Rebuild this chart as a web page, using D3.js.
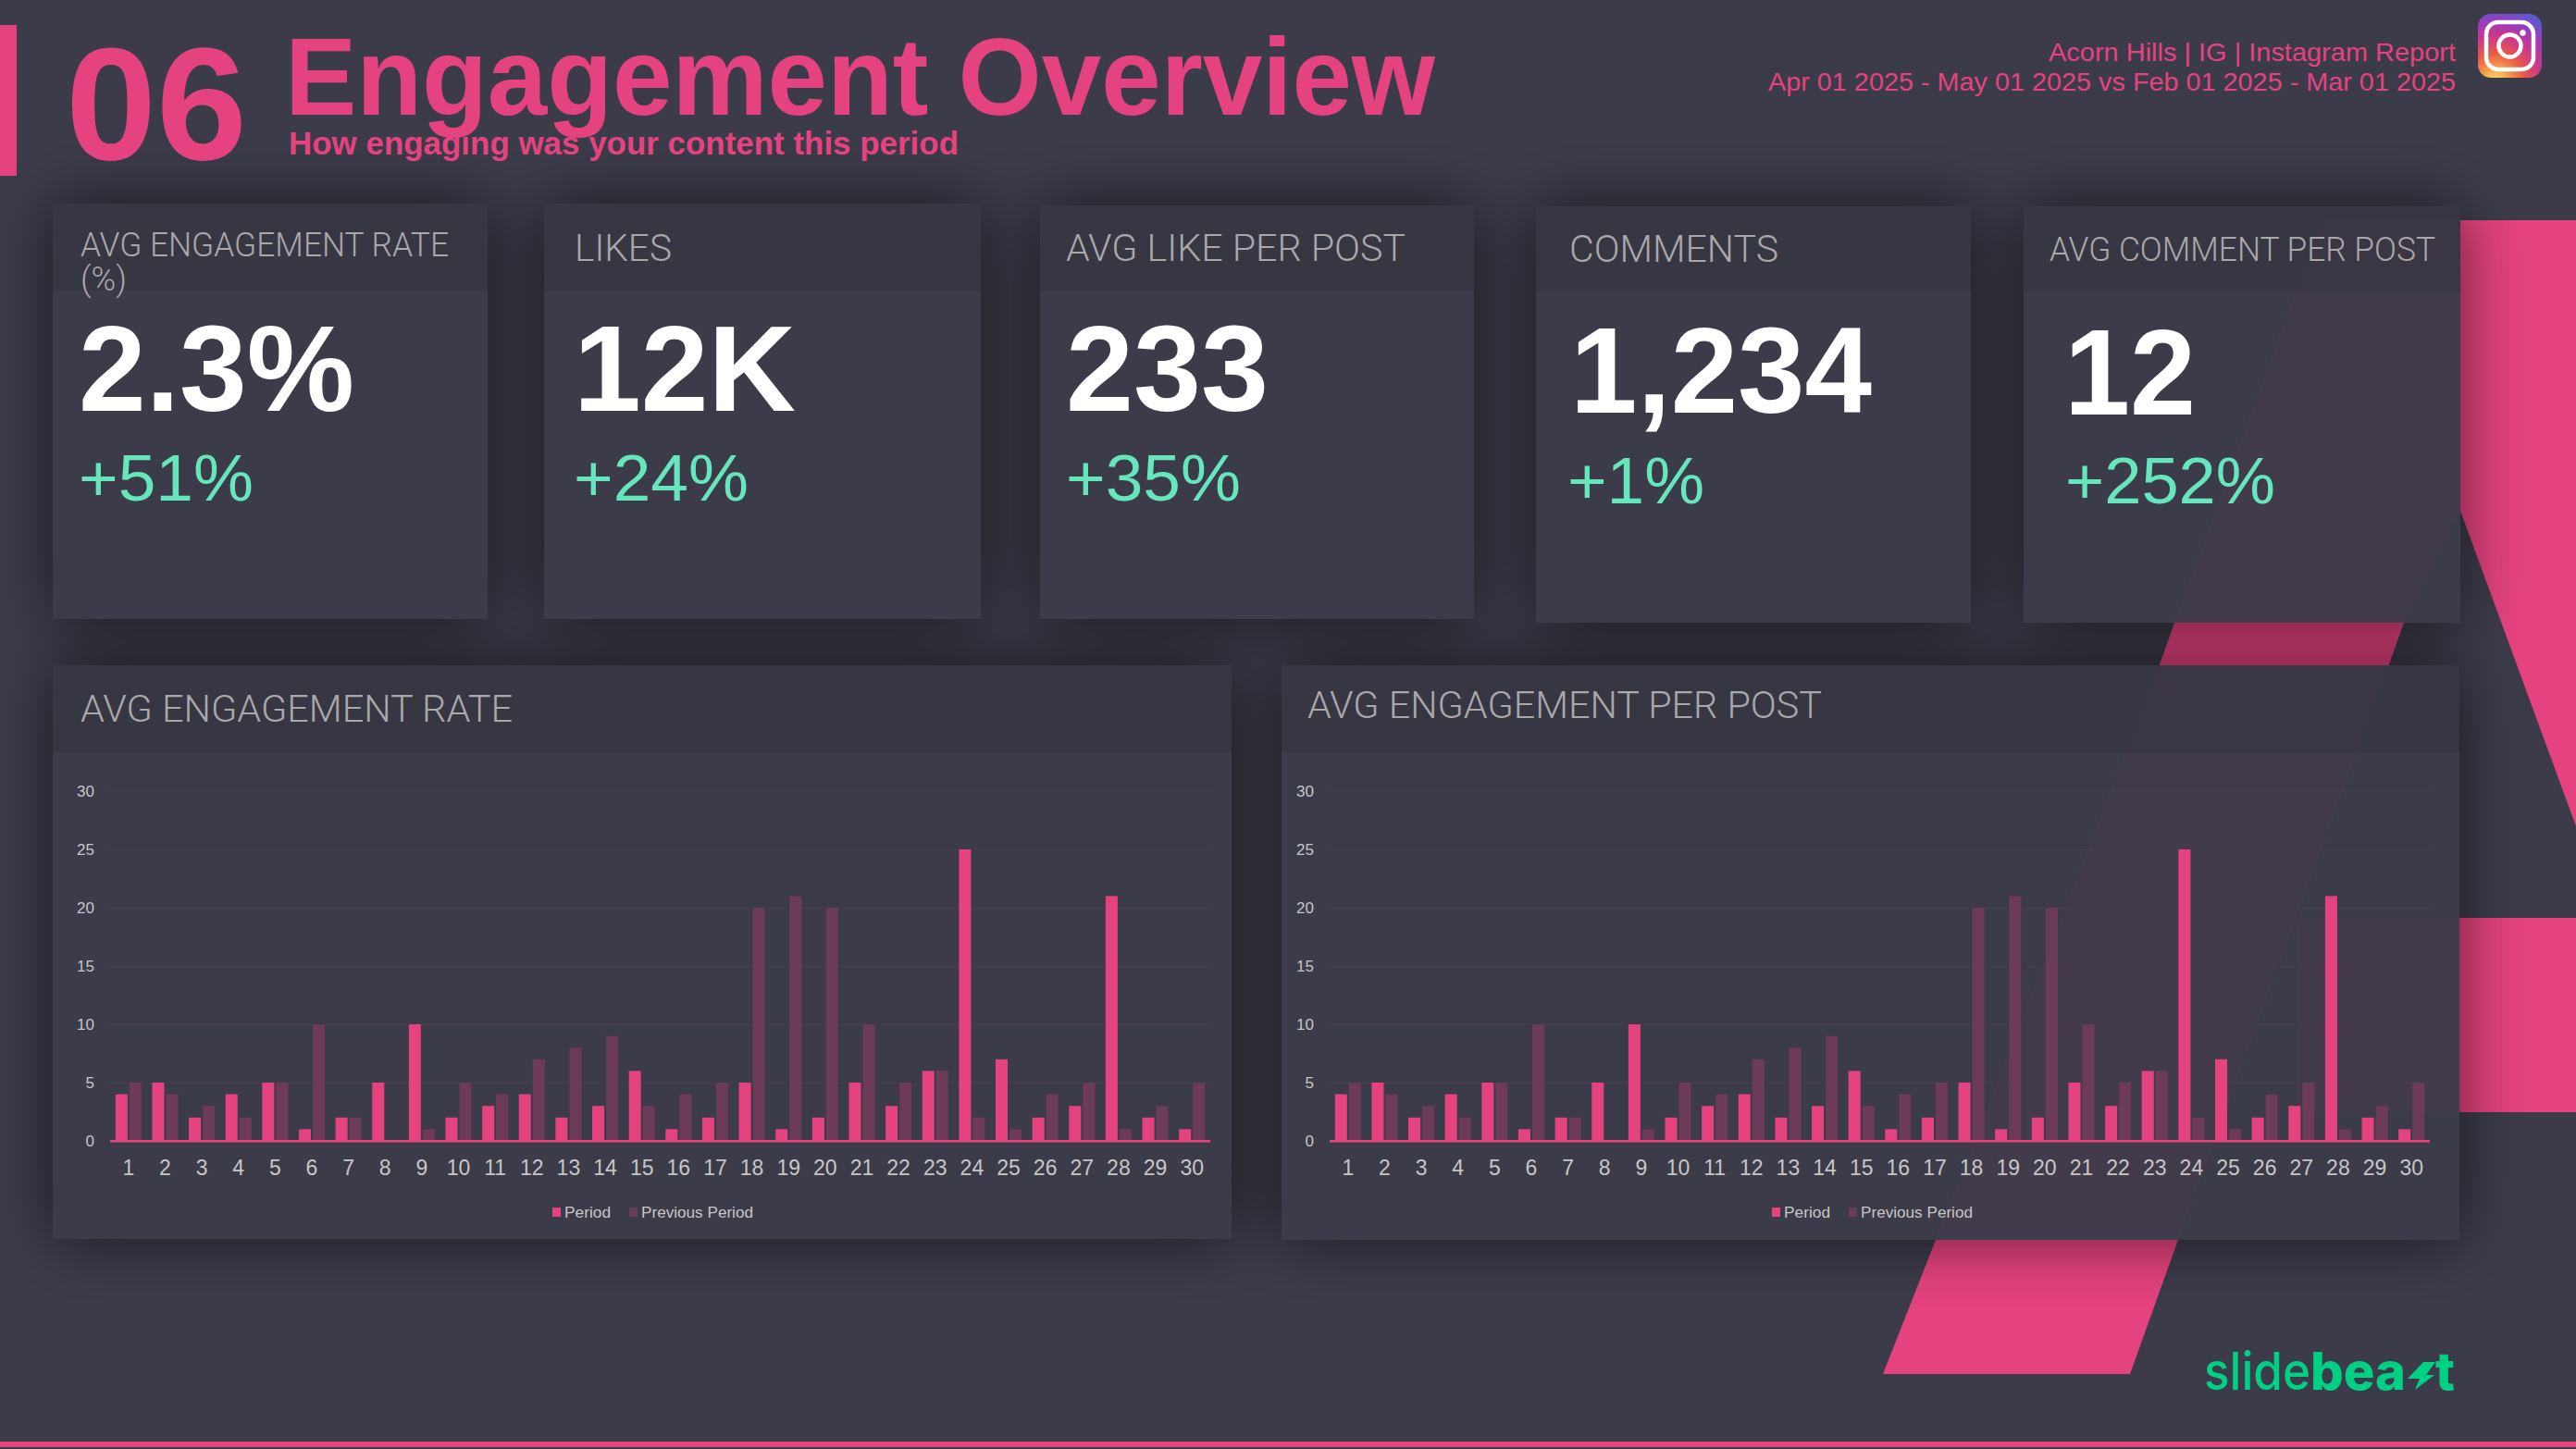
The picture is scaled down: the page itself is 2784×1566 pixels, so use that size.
<!DOCTYPE html>
<html><head><meta charset="utf-8">
<script src="https://cdn.jsdelivr.net/npm/d3@7"></script>
<style>html,body{margin:0;padding:0;background:#3c3b4a;overflow:hidden}svg{display:block}text{font-family:"Liberation Sans",Arial,sans-serif}</style>
</head><body><div id="c"></div>
<script>
// ---------- data ----------
const days = d3.range(1,31).map(String);
const periodValues   = [4,5,2,4,5,1,2,5,10,2,3,4,2,3,6,1,2,5,1,2,5,3,6,25,7,2,3,21,2,1];
const previousValues = [5,4,3,2,5,10,2,0,1,5,4,7,8,9,3,4,5,20,21,20,10,5,6,2,1,4,5,1,3,5];
const yTicks = [0,5,10,15,20,25,30];
const seriesNames = ["Period","Previous Period"];
const kpiTitles = ["AVG ENGAGEMENT RATE","LIKES","AVG LIKE PER POST","COMMENTS","AVG COMMENT PER POST"];
const kpiValues = ["2.3%","12K","233","1,234","12"];
const kpiDeltas = ["+51%","+24%","+35%","+1%","+252%"];
const chartTitles = ["AVG ENGAGEMENT RATE","AVG ENGAGEMENT PER POST"];

// ---------- palette / layout ----------
const W=2784,H=1566, PINK="#e5437f", PREV="#6b3b58", TEAL="#65e6bc", GREY="#a9a8ab", AXIS="#c6c6c8";
const svg=d3.select("#c").append("svg").attr("width",W).attr("height",H);
const defs=svg.append("defs");
const f=defs.append("filter").attr("id","sh").attr("filterUnits","userSpaceOnUse").attr("x",0).attr("y",0).attr("width",W).attr("height",H);
f.append("feGaussianBlur").attr("in","SourceAlpha").attr("stdDeviation",36).attr("result","b");
f.append("feComposite").attr("in","b").attr("in2","SourceAlpha").attr("operator","out").attr("result","o");
const ct=f.append("feComponentTransfer").attr("in","o");
ct.append("feFuncA").attr("type","linear").attr("slope",.58);
const ig=defs.append("radialGradient").attr("id","ig").attr("cx",.28).attr("cy",1.05).attr("r",1.15);
[[0,"#fdd867"],[.14,"#f9b04f"],[.38,"#ea5a45"],[.62,"#c9378f"],[.82,"#9a3bc0"],[1,"#5b5bd0"]].forEach(s=>ig.append("stop").attr("offset",s[0]).attr("stop-color",s[1]));

svg.append("rect").attr("width",W).attr("height",H).attr("fill","#3c3b4a");
const line=d3.line();
const bgShapes=[
 [[2509,238],[2784,238],[2784,893],[2659,552],[2598,673],[2582,718],[2354,1340],[2302,1485],[2035,1485],[2092,1340],[2334,718],[2350,673]],
 [[2483,992],[2784,992],[2784,1202],[2483,1202]]
];
svg.selectAll(".bgs").data(bgShapes).join("path").attr("d",d=>line(d)+"Z").attr("fill",PINK);
svg.append("rect").attr("x",0).attr("y",27).attr("width",18).attr("height",163).attr("fill",PINK);
svg.append("rect").attr("x",0).attr("y",1558).attr("width",W).attr("height",6).attr("fill",PINK);

const cards=[[57,527,220,314,669],[588,1060,220,314,669],[1124,1593,222,315,669],[1660,2130,223,316,673],[2187,2659,223,316,673]];
const panels=[[57,1331,719,813,1339],[1385,2658,719,813,1340]];
const allP=cards.concat(panels);
const sh=svg.append("g").attr("filter","url(#sh)");
sh.selectAll("rect").data(allP).join("rect").attr("x",d=>d[0]).attr("y",d=>d[2]).attr("width",d=>d[1]-d[0]).attr("height",d=>d[4]-d[2]).attr("fill","#000");
svg.append("g").selectAll("rect").data(allP).join("rect").attr("x",d=>d[0]).attr("y",d=>d[2]).attr("width",d=>d[1]-d[0]).attr("height",d=>d[4]-d[2]).attr("fill","#3c3b4a").attr("fill-opacity",.965);
svg.append("g").selectAll("rect").data(allP).join("rect").attr("x",d=>d[0]).attr("y",d=>d[2]).attr("width",d=>d[1]-d[0]).attr("height",d=>d[3]-d[2]).attr("fill","#2e2d38").attr("fill-opacity",.33);

function T(s,x,y,size,fill,o={}){
  const t=svg.append("text").attr("x",x).attr("y",y).attr("font-size",size).attr("fill",fill).text(s);
  if(o.w)t.style("font-weight",o.w);
  if(o.fam)t.style("font-family",o.fam);
  if(o.anchor)t.attr("text-anchor",o.anchor);
  if(o.len)t.attr("textLength",o.len).attr("lengthAdjust","spacingAndGlyphs");
  return t;
}
const LIGHT='Roboto,"Liberation Sans"';
// header
T("06",71,172,172,PINK,{w:700,len:196});
T("Engagement Overview",308,124,118,PINK,{w:700,len:1243});
T("How engaging was your content this period",312,167,35,PINK,{w:700,len:724});
T("Acorn Hills | IG | Instagram Report",2654,66,28,PINK,{anchor:"end",len:440});
T("Apr 01 2025 - May 01 2025 vs Feb 01 2025 - Mar 01 2025",2654,98,28,PINK,{anchor:"end",len:743});
// instagram icon
const g=svg.append("g").attr("transform","translate(2678,15)");
g.append("rect").attr("width",69).attr("height",69).attr("rx",14).attr("fill","url(#ig)");
g.append("rect").attr("x",9).attr("y",9).attr("width",51).attr("height",51).attr("rx",13).attr("fill","none").attr("stroke","#fff").attr("stroke-width",4.5);
g.append("circle").attr("cx",34.5).attr("cy",34.5).attr("r",12).attr("fill","none").attr("stroke","#fff").attr("stroke-width",4.5);
g.append("circle").attr("cx",48.5).attr("cy",20.5).attr("r",3.2).attr("fill","#fff");

// KPI cards
const titlePos=[[87,277,398],[621,282,105],[1152,282,367],[1696,283,226],[2215,282,417]];
const valPos=[[85,444,298],[620,444,240],[1152,444,219],[1697,446,326],[2231,448,142]];
const deltaPos=[[85,541,189],[620,541,189],[1152,541,189],[1694,544,148],[2232,544,227]];
kpiTitles.forEach((s,i)=>T(s,titlePos[i][0],titlePos[i][1],i==4?36:(i==0?36:41),GREY,{fam:LIGHT,w:300,len:titlePos[i][2]}));
T("(%)",87,314,36,GREY,{fam:LIGHT,w:300,len:50});
kpiValues.forEach((s,i)=>T(s,valPos[i][0],valPos[i][1],131,"#fff",{w:700,len:valPos[i][2]}));
kpiDeltas.forEach((s,i)=>T(s,deltaPos[i][0],deltaPos[i][1],70,TEAL,{len:deltaPos[i][2]}));

// bar charts
function chart(dx,title,titleY,titleW,period,previous){
  const x=d3.scaleBand().domain(days).range([119+dx,1308+dx]);
  const x1=d3.scaleBand().domain(seriesNames).range([0,x.bandwidth()]).paddingInner(.133).paddingOuter(.387);
  const y=d3.scaleLinear().domain([0,30]).range([1233,855]);
  const G=svg.append("g");
  T(title,87+(dx?1326:0),titleY,40,GREY,{fam:LIGHT,w:300,len:titleW});
  const ya=G.append("g").attr("transform",`translate(${119+dx},0)`).call(d3.axisLeft(y).tickValues(yTicks).tickSize(0).tickPadding(17));
  ya.select(".domain").remove();
  ya.selectAll("text").attr("font-size",17).attr("fill",AXIS).attr("dy",".32em");
  ya.selectAll(".tick").append("line").attr("x1",0).attr("x2",1189).attr("stroke","#4a3a4e").attr("stroke-width",1).lower();
  [[period,seriesNames[0],PINK],[previous,seriesNames[1],PREV]].forEach(([vals,name,col])=>{
    G.append("g").selectAll("rect").data(vals).join("rect")
      .attr("x",(d,i)=>x(days[i])+x1(name)).attr("width",x1.bandwidth())
      .attr("y",d=>y(d)).attr("height",d=>y(0)-y(d)).attr("fill",col);
  });
  G.append("rect").attr("x",119+dx).attr("y",y(0)-1).attr("width",1189).attr("height",2.6).attr("fill",PINK);
  const xa=G.append("g").attr("transform",`translate(0,${y(0)})`).call(d3.axisBottom(x).tickSize(0).tickPadding(21));
  xa.select(".domain").remove();
  xa.selectAll("text").attr("font-size",23).attr("fill",AXIS).attr("dy",".71em");
  // legend
  G.append("rect").attr("x",597+dx).attr("y",1305).attr("width",9).attr("height",10).attr("fill",PINK);
  T(seriesNames[0],610+dx,1316,17,AXIS,{len:50});
  G.append("rect").attr("x",680+dx).attr("y",1305).attr("width",9).attr("height",10).attr("fill",PREV);
  T(seriesNames[1],693+dx,1316,17,AXIS,{len:121});
}
chart(0,chartTitles[0],780,467,periodValues,previousValues);
chart(1318,chartTitles[1],776,556,periodValues,previousValues);

// logo
const GREEN="#00d084", LOGO='Inter,"Open Sans",sans-serif';
T("slide",2382,1502,56,GREEN,{fam:LOGO,w:500,len:115});
T("bea",2497,1502,56,GREEN,{fam:LOGO,w:800,len:103});
svg.append("path").attr("d",line([[2619,1472],[2632,1472],[2622,1486],[2631,1486],[2610,1502],[2615,1490],[2602,1490]])+"Z").attr("fill",GREEN);
T("t",2632,1502,56,GREEN,{fam:LOGO,w:800,len:21});
</script></body></html>
